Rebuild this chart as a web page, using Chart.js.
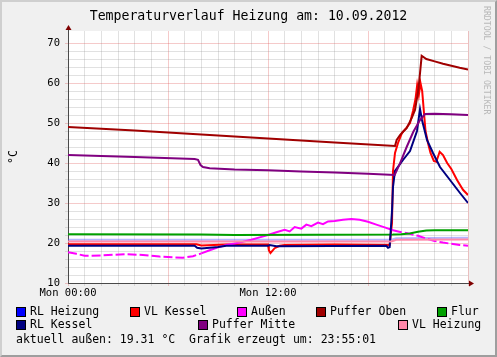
<!DOCTYPE html>
<html>
<head>
<meta charset="utf-8">
<script src="https://cdn.jsdelivr.net/npm/chart.js@4/dist/chart.umd.min.js"></script>
<style>
  html, body { margin:0; padding:0; background:#f0f0f0; }
  body { width:497px; height:357px; position:relative; overflow:hidden; font-family:"DejaVu Sans Mono", monospace; color:#000; }
  #c { position:absolute; left:0; top:0; }
  #frame { position:absolute; left:0; top:0; width:497px; height:357px; box-sizing:border-box;
           border-top:2px solid #cfcfcf; border-left:2px solid #cfcfcf; border-right:2px solid #9e9e9e; border-bottom:2px solid #9e9e9e; pointer-events:none; }
  .t { position:absolute; white-space:pre; }
  #title { left:0; width:497px; top:8px; text-align:center; font-size:13.2px; }
  #ylab { left:6px; top:150px; font-size:11.5px; transform:rotate(-90deg); transform-origin:center; }
  #rrd { left:482px; top:6px; writing-mode:vertical-rl; font-size:8.2px; color:#b8b8b8; }
  .lg { position:absolute; font-size:11.5px; line-height:12px; white-space:pre; }
  .box { position:absolute; width:8px; height:8px; border:1px solid #000; }
</style>
</head>
<body>
<canvas id="c" width="497" height="357"></canvas>
<div id="title" class="t">Temperaturverlauf Heizung am: 10.09.2012</div>
<div id="ylab" class="t">°C</div>
<div id="rrd" class="t">RRDTOOL / TOBI OETIKER</div>
<div id="legend"></div>
<div class="lg" style="left:16px; top:333px;">aktuell außen: 19.31 °C  Grafik erzeugt um: 23:55:01</div>
<div id="frame"></div>
<script>
// ---- data (x = hours since Mon 00:00, y = °C) ----
const xTickLabels = { 0: "Mon 00:00", 12: "Mon 12:00" };
const yTickLabels = [10, 20, 30, 40, 50, 60, 70];

const seriesNames  = ["RL Heizung", "VL Kessel", "Außen", "Puffer Oben", "Flur", "RL Kessel", "Puffer Mitte", "VL Heizung"];
const seriesColors = ["#0000ff", "#ff0000", "#ff00ff", "#a00000", "#00a000", "#000080", "#800080", "#ff88aa"];

const rlHeizungT = [0, 6, 12, 19.4, 19.7, 24];
const rlHeizungV = [20.8, 20.8, 20.8, 20.8, 21.2, 21.3];

const vlKesselT = [0, 4, 7.7, 8.0, 9.5, 12, 12.05, 12.15, 12.4, 12.7, 13, 16, 19.3, 19.44, 19.5, 19.62, 19.8, 20.04, 20.3, 20.52, 20.7, 20.85, 20.95, 21.05, 21.15, 21.25, 21.35, 21.45, 21.6, 21.75, 21.95, 22.1, 22.3, 22.5, 22.75, 23.0, 23.35, 23.7, 24];
const vlKesselV = [19.7, 19.7, 19.7, 19.4, 19.6, 19.6, 18.2, 17.5, 18.7, 19.3, 19.5, 19.6, 19.5, 25, 38, 42.5, 45, 47.5, 48.8, 50, 53, 56, 59.5, 57, 60, 58, 53, 48, 45, 42.5, 40.5, 40.3, 42.8, 42, 40, 38.5, 35.7, 33.3, 32];

const aussenT = [0, 0.5, 1, 2, 3.5, 4.5, 5.5, 6.9, 7.5, 8.0, 8.5, 9, 9.5, 10, 10.5, 11, 11.5, 12, 12.5, 13, 13.3, 13.6, 14, 14.3, 14.6, 15, 15.3, 15.6, 16, 16.5, 17, 17.5, 18, 18.5, 19, 19.5, 20, 20.5, 21, 21.5, 22, 22.5, 23, 23.5, 24];
const aussenV = [17.7, 17.3, 16.8, 16.9, 17.2, 17.0, 16.6, 16.3, 16.7, 17.4, 18.2, 18.9, 19.5, 19.9, 20.3, 20.8, 21.4, 22.0, 22.7, 23.3, 22.9, 24.0, 23.6, 24.6, 24.2, 25.1, 24.7, 25.4, 25.5, 25.8, 26.0, 25.8, 25.3, 24.6, 23.9, 23.2, 22.7, 22.3, 21.8, 21.1, 20.5, 20.1, 19.8, 19.5, 19.3];

const pufferObenT = [0, 4, 8, 12, 16, 19.62, 19.72, 19.92, 20.1, 20.32, 20.62, 20.82, 20.92, 21.02, 21.12, 21.22, 21.5, 22, 22.5, 23, 23.5, 24];
const pufferObenV = [49, 48.1, 47.1, 46.1, 45.1, 44.25, 45.75, 47, 47.8, 48.7, 51.2, 53.25, 55.75, 58.25, 62.4, 66.8, 66, 65.4, 64.8, 64.3, 63.8, 63.4];

const flurT = [0, 8, 10, 19.5, 20, 20.5, 21, 21.5, 22, 24];
const flurV = [22.2, 22.1, 22.0, 22.1, 22.2, 22.4, 22.8, 23.1, 23.2, 23.2];

const rlKesselT = [0, 7.6, 7.75, 8.0, 8.5, 9, 9.5, 12, 12.1, 12.5, 19.1, 19.2, 19.3, 19.44, 19.5, 19.62, 20.1, 20.52, 20.94, 21.12, 21.24, 21.54, 21.9, 22.32, 22.92, 23.52, 24];
const rlKesselV = [19.3, 19.3, 18.8, 18.6, 18.8, 19.0, 19.3, 19.3, 19.5, 19.2, 19.3, 18.8, 19.0, 28, 34, 38, 40.75, 43, 48, 53.5, 50.75, 45.75, 42.5, 39, 35.75, 32.5, 30];

const pufferMitteT = [0, 4, 7.6, 7.8, 7.95, 8.1, 8.5, 10, 12, 14, 16, 18, 19.6, 19.92, 20.32, 20.72, 21.12, 21.42, 22, 23, 24];
const pufferMitteV = [42, 41.5, 41, 40.8, 39.5, 39, 38.7, 38.4, 38.2, 37.9, 37.6, 37.3, 37.0, 39.9, 44, 47.8, 50.75, 52.25, 52.3, 52.2, 52.0];

const vlHeizungT = [0, 6, 12, 19.4, 19.7, 24];
const vlHeizungV = [20.4, 20.4, 20.4, 20.4, 20.8, 20.9];

const seriesT = [rlHeizungT, vlKesselT, aussenT, pufferObenT, flurT, rlKesselT, pufferMitteT, vlHeizungT];
const seriesV = [rlHeizungV, vlKesselV, aussenV, pufferObenV, flurV, rlKesselV, pufferMitteV, vlHeizungV];

// ---- legend (HTML text) ----
const legendPos = [[16,307],[130,307],[237,307],[316,307],[437,307],[16,320],[198,320],[398,320]];
const lgEl = document.getElementById('legend');
seriesNames.forEach((n, i) => {
  const [x, y] = legendPos[i];
  const b = document.createElement('div'); b.className = 'box';
  b.style.left = x + 'px'; b.style.top = y + 'px'; b.style.background = seriesColors[i];
  lgEl.appendChild(b);
  const t = document.createElement('div'); t.className = 'lg'; t.textContent = n;
  t.style.left = (x + 14) + 'px'; t.style.top = (y - 2) + 'px';
  lgEl.appendChild(t);
});

// ---- chart ----
const lineColors = seriesColors.map((c, i) => i === 0 ? 'rgba(90,90,255,0.45)' : c);
const datasets = seriesNames.map((n, i) => ({
  label: n,
  data: seriesT[i].map((t, k) => ({ x: t, y: seriesV[i][k] })),
  borderColor: lineColors[i],
  borderWidth: 2,
  pointRadius: 0,
  tension: 0,
  fill: false,
  order: -i,
  segment: i === 2 ? { borderDash: ctx => (ctx.p0.parsed.x < 8 || ctx.p0.parsed.x > 19) ? [9, 3] : undefined } : undefined
}));

const MINOR = 'rgba(143,143,143,0.27)';
const MAJOR = 'rgba(222,80,80,0.3)';

const bgPlugin = {
  id: 'bg',
  beforeDraw(chart) {
    const a = chart.chartArea, c = chart.ctx;
    c.save(); c.fillStyle = '#ffffff'; c.fillRect(a.left, a.top, a.right - a.left, a.bottom - a.top); c.restore();
  },
  afterDraw(chart) {
    const a = chart.chartArea, c = chart.ctx;
    c.save();
    c.strokeStyle = '#4a4a4a'; c.lineWidth = 1;
    c.beginPath(); c.moveTo(a.left + 0.5, a.top); c.lineTo(a.left + 0.5, a.top - 4); c.stroke();
    c.beginPath(); c.moveTo(a.right, a.bottom + 0.5); c.lineTo(a.right + 4, a.bottom + 0.5); c.stroke();
    c.fillStyle = '#7f0000';
    c.beginPath(); c.moveTo(a.left + 0.5, a.top - 6); c.lineTo(a.left - 2.5, a.top - 1); c.lineTo(a.left + 3.5, a.top - 1); c.closePath(); c.fill();
    c.beginPath(); c.moveTo(a.right + 6, a.bottom + 0.5); c.lineTo(a.right + 1, a.bottom - 2.5); c.lineTo(a.right + 1, a.bottom + 3.5); c.closePath(); c.fill();
    c.restore();
  }
};

new Chart(document.getElementById('c'), {
  type: 'line',
  data: { datasets },
  plugins: [bgPlugin],
  options: {
    responsive: false,
    animation: false,
    layout: { padding: { top: 31, right: 29, left: 0, bottom: 0 } },
    plugins: { legend: { display: false }, tooltip: { enabled: false } },
    scales: {
      x: {
        type: 'linear', min: 0, max: 24,
        afterFit: s => { s.height = 74; },
        border: { color: '#4a4a4a', width: 1 },
        grid: { color: ctx => (ctx.tick && ctx.tick.value % 6 === 0) ? MAJOR : MINOR, tickLength: 3 },
        ticks: {
          stepSize: 1, autoSkip: false, maxRotation: 0, padding: 1, color: '#000',
          font: { family: 'DejaVu Sans Mono', size: 10.5 },
          callback: v => xTickLabels[v] || ''
        }
      },
      y: {
        min: 10, max: 73,
        afterFit: s => { s.width = 68; },
        border: { color: '#4a4a4a', width: 1 },
        grid: {
          color: ctx => {
            const v = ctx.tick ? ctx.tick.value : 0;
            if (v % 10 === 0) return MAJOR;
            if (v % 2 === 0) return MINOR;
            return 'rgba(0,0,0,0)';
          },
          tickLength: 3
        },
        ticks: {
          stepSize: 2, autoSkip: false, padding: 5, color: '#000',
          font: { family: 'DejaVu Sans Mono', size: 10.5 },
          callback: v => yTickLabels.includes(v) ? String(v) : ''
        }
      }
    }
  }
});
</script>
</body>
</html>
